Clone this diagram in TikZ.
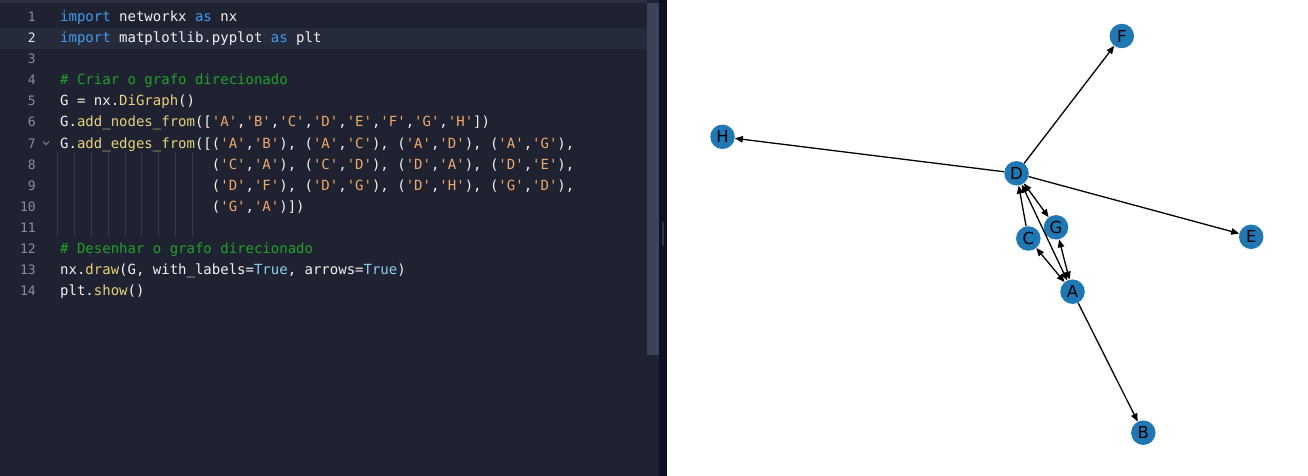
\documentclass[tikz,border=0pt]{standalone}
\usepackage{fontspec}
\usetikzlibrary{arrows.meta}
\newfontfamily\codefont{DejaVu Sans Mono}
\newfontfamily\labelfont{DejaVu Sans}
\definecolor{edbg}{HTML}{1E2231}
\definecolor{edhl}{HTML}{262B3C}
\definecolor{edtop}{HTML}{2A3040}
\definecolor{kwc}{HTML}{409CF0}
\definecolor{txtc}{HTML}{F2F2F2}
\definecolor{cmc}{HTML}{22A02A}
\definecolor{fnc}{HTML}{E8D27C}
\definecolor{strc}{HTML}{F0A868}
\definecolor{truec}{HTML}{8FD0EE}
\definecolor{lnc}{HTML}{8A8F9A}
\definecolor{lncur}{HTML}{E8E8E8}
\definecolor{guidec}{HTML}{363B4B}
\definecolor{scrollc}{HTML}{3B4358}
\definecolor{stripc}{HTML}{0E1322}
\definecolor{handlec}{HTML}{2E3548}
\definecolor{nodeblue}{HTML}{1F77B4}
\newcommand\sq{\char"27\relax}
\newcommand\us{\char"5F\relax}
\newcommand\spc{\phantom{x}}
\newcommand\ckw[1]{\textcolor{kwc}{#1}}
\newcommand\cfn[1]{\textcolor{fnc}{#1}}
\newcommand\ccm[1]{\textcolor{cmc}{#1}}
\newcommand\ctrue[1]{\textcolor{truec}{#1}}
\newcommand\qs[1]{\textcolor{strc}{\sq #1\sq}}
\tikzset{
  codeline/.style={anchor=base west, inner sep=0pt, text=txtc,
    font=\codefont\fontsize{14pt}{14pt}\selectfont},
  lnum/.style={anchor=base east, inner sep=0pt, text=lnc,
    font=\codefont\fontsize{13pt}{13pt}\selectfont},
  gnode/.style={circle, fill=nodeblue, minimum size=24.5pt, inner sep=0pt,
    text=black, font=\labelfont\fontsize{16.5pt}{16.5pt}\selectfont},
  edge/.style={draw=black, line width=1.3pt, -{Triangle[length=8pt,width=6.5pt]}},
  bedge/.style={draw=black, line width=1.3pt,
    {Triangle[length=8pt,width=6.5pt]}-{Triangle[length=8pt,width=6.5pt]}},
  guide/.style={draw=guidec, line width=0.8pt}
}
\begin{document}
\begin{tikzpicture}[x=1pt,y=-1pt]
\useasboundingbox (0,0) rectangle (1308,476);
% editor panel
\fill[edbg] (0,0) rectangle (659,476);
\fill[edtop] (0,0) rectangle (647,3);
\fill[edhl] (0,28) rectangle (647,49);
\fill[scrollc] (647,3) rectangle (659,355);
\fill[stripc] (659,0) rectangle (667,476);
\fill[handlec] (661.5,222) rectangle (663.5,246);
\fill[white] (667,0) rectangle (1308,476);
% indent guides
\foreach \k in {0,...,8} {
  \draw[guide] ({57.5+\k*16.86},152) -- ({57.5+\k*16.86},237);
}
% fold marker
\draw[lnc, line width=0.8pt] (43,141.5) -- (46,144.5) -- (49,141.5);
% line numbers
\foreach \n in {1,3,4,5,6,7,8,9,10,11,12,13,14} {
  \node[lnum] (n\n) at (36,{22+21*(\n-1)}) {\n};
}
\node[lnum, text=lncur] (n2) at (36,43) {2};
% code
\node[codeline] (c1) at (60,22) {\ckw{import}\spc networkx\spc\ckw{as}\spc nx};
\node[codeline] (c2) at (60,43) {\ckw{import}\spc matplotlib.pyplot\spc\ckw{as}\spc plt};
\node[codeline] (c4) at (60,85) {\ccm{\#\spc Criar\spc o\spc grafo\spc direcionado}};
\node[codeline] (c5) at (60,106) {G\spc=\spc nx.\cfn{DiGraph}()};
\node[codeline] (c6) at (60,127) {G.\cfn{add\us nodes\us from}([\qs{A},\qs{B},\qs{C},\qs{D},\qs{E},\qs{F},\qs{G},\qs{H}])};
\node[codeline] (c7) at (60,148) {G.\cfn{add\us edges\us from}([(\qs{A},\qs{B}),\spc(\qs{A},\qs{C}),\spc(\qs{A},\qs{D}),\spc(\qs{A},\qs{G}),};
\node[codeline] (c8) at (211.7,169) {(\qs{C},\qs{A}),\spc(\qs{C},\qs{D}),\spc(\qs{D},\qs{A}),\spc(\qs{D},\qs{E}),};
\node[codeline] (c9) at (211.7,190) {(\qs{D},\qs{F}),\spc(\qs{D},\qs{G}),\spc(\qs{D},\qs{H}),\spc(\qs{G},\qs{D}),};
\node[codeline] (c10) at (211.7,211) {(\qs{G},\qs{A})])};
\node[codeline] (c12) at (60,253) {\ccm{\#\spc Desenhar\spc o\spc grafo\spc direcionado}};
\node[codeline] (c13) at (60,274) {nx.\cfn{draw}(G,\spc with\us labels=\ctrue{True},\spc arrows=\ctrue{True})};
\node[codeline] (c14) at (60,295) {plt.\cfn{show}()};
% graph nodes
\node[gnode] (A) at (1072.5,291.7) {A};
\node[gnode] (B) at (1143.3,432.7) {B};
\node[gnode] (C) at (1028.3,238.5) {C};
\node[gnode] (D) at (1016.5,173.3) {D};
\node[gnode] (E) at (1251.2,236.8) {E};
\node[gnode] (F) at (1121.8,36) {F};
\node[gnode] (G) at (1056,227.3) {G};
\node[gnode] (H) at (722.5,136.8) {H};
% edges
\draw[edge] (A) -- (B);
\draw[bedge] (A) -- (C);
\draw[bedge] (A) -- (D);
\draw[bedge] (A) -- (G);
\draw[edge] (C) -- (D);
\draw[bedge] (D) -- (G);
\draw[edge] (D) -- (E);
\draw[edge] (D) -- (F);
\draw[edge] (D) -- (H);
\end{tikzpicture}
\end{document}
